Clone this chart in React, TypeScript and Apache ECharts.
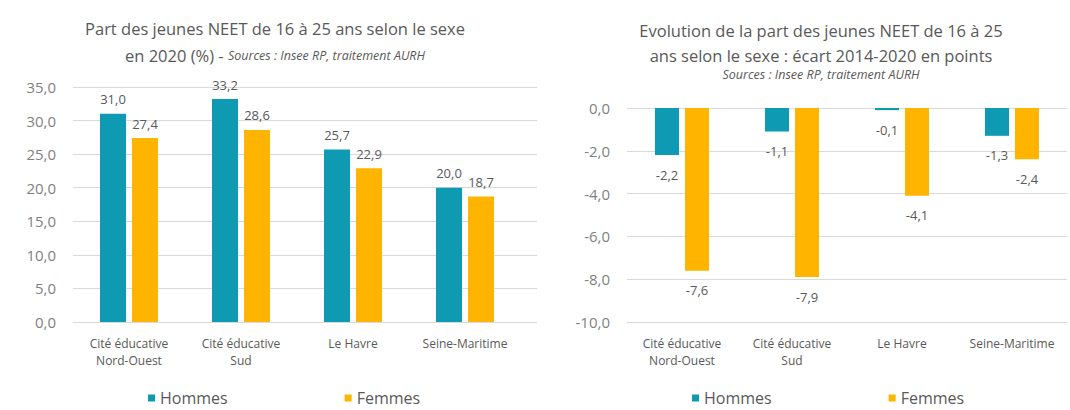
import React, { useEffect, useRef } from "react";
import * as echarts from "echarts";

const categories = ["Cité éducative\nNord-Ouest", "Cité éducative\nSud", "Le Havre", "Seine-Maritime"];
const seriesNames = ["Hommes", "Femmes"];
const hommes2020 = [31.0, 33.2, 25.7, 20.0];
const femmes2020 = [27.4, 28.6, 22.9, 18.7];
const hommesEcart = [-2.2, -1.1, -0.1, -1.3];
const femmesEcart = [-7.6, -7.9, -4.1, -2.4];

const leftTitle1 = "Part des jeunes NEET de 16 à 25 ans selon le sexe";
const leftTitle2 = "en 2020 (%) - ";
const sourceText = "Sources : Insee RP, traitement AURH";
const rightTitle1 = "Evolution de la part des jeunes NEET de 16 à 25";
const rightTitle2 = "ans selon le sexe : écart 2014-2020 en points";

const TEAL = "#0E9AB3";
const ORANGE = "#FFB400";
const TXT = "#595959";
const GRID = "#d9d9d9";
const FONT = "Open Sans";

const fmt = (v: number) => v.toFixed(1).replace(".", ",");

export default function App() {
  const ref = useRef<HTMLDivElement>(null);
  useEffect(() => {
    if (!ref.current) return;
    const chart = echarts.init(ref.current, null, { renderer: "svg" });
    const yAxisCommon = {
      type: "value" as const,
      axisLine: { show: false },
      axisTick: { show: false },
      splitLine: { show: true, lineStyle: { color: GRID, width: 1 } },
      axisLabel: { color: "#7f7f7f", fontSize: 15, fontFamily: FONT, margin: 17, formatter: (v: number) => fmt(v) },
    };
    const xAxisCommon = {
      type: "category" as const,
      data: categories,
      axisTick: { show: false },
      axisLine: { show: false },
      splitLine: { show: false },
      axisLabel: { color: TXT, fontSize: 12, fontFamily: FONT, margin: 13, lineHeight: 17, interval: 0 },
    };
    const labelCommon = { show: true, color: TXT, fontSize: 13, fontFamily: FONT, formatter: (p: any) => fmt(p.value) };
    const legendCommon = {
      data: seriesNames, top: 385, itemWidth: 7, itemHeight: 7, itemGap: 117, icon: "rect",
      textStyle: { color: TXT, fontSize: 16, fontFamily: FONT },
    };
    const gridCommon = { show: false, borderWidth: 0 };
    chart.setOption({
      animation: false,
      textStyle: { fontFamily: FONT },
      grid: [
        { ...gridCommon, left: 73, top: 87, width: 448, height: 235 },
        { ...gridCommon, left: 627, top: 108, width: 440, height: 214 },
        { ...gridCommon, left: 73, top: 87, width: 464, height: 235 },
      ],
      xAxis: [
        { ...xAxisCommon, gridIndex: 0 },
        { ...xAxisCommon, gridIndex: 1 },
        { ...xAxisCommon, gridIndex: 2, show: false },
      ],
      yAxis: [
        { ...yAxisCommon, gridIndex: 0, min: 0, max: 35, interval: 5, splitLine: { show: false } },
        { ...yAxisCommon, gridIndex: 1, min: -10, max: 0, interval: 2 },
        { ...yAxisCommon, gridIndex: 2, min: 0, max: 35, interval: 5, axisLabel: { show: false } },
      ],
      legend: [
        { ...legendCommon, left: 143 },
        { ...legendCommon, left: 687 },
      ],
      series: [
        {
          name: seriesNames[0], type: "bar", xAxisIndex: 0, yAxisIndex: 0, data: hommes2020,
          barWidth: 26, barGap: "23%", itemStyle: { color: TEAL },
          label: { ...labelCommon, position: "top", distance: 8 },
        },
        {
          name: seriesNames[1], type: "bar", xAxisIndex: 0, yAxisIndex: 0, data: femmes2020,
          barWidth: 26, barGap: "23%", itemStyle: { color: ORANGE },
          label: { ...labelCommon, position: "top", distance: 8 },
        },
        {
          name: seriesNames[0], type: "bar", xAxisIndex: 1, yAxisIndex: 1, data: hommesEcart,
          barWidth: 24, barGap: "25%", itemStyle: { color: TEAL },
          label: { ...labelCommon, position: "bottom", distance: 13 },
        },
        {
          name: seriesNames[1], type: "bar", xAxisIndex: 1, yAxisIndex: 1, data: femmesEcart,
          barWidth: 24, barGap: "25%", itemStyle: { color: ORANGE },
          label: { ...labelCommon, position: "bottom", distance: 13 },
        },
      ],
      graphic: [
        { type: "text", x: 275, y: 28, style: { text: leftTitle1, fill: TXT, fontSize: 16.5, fontFamily: FONT, align: "center", verticalAlign: "middle" } },
        {
          type: "text", x: 275, y: 55,
          style: {
            text: "{a|" + leftTitle2 + "}{s|" + sourceText + "}", align: "center", verticalAlign: "middle",
            rich: { a: { fill: TXT, fontSize: 16.5, fontFamily: FONT }, s: { fill: TXT, fontSize: 12.5, fontStyle: "italic", fontFamily: FONT } },
          },
        },
        { type: "text", x: 821, y: 30, style: { text: rightTitle1, fill: TXT, fontSize: 16.5, fontFamily: FONT, align: "center", verticalAlign: "middle" } },
        { type: "text", x: 821, y: 55, style: { text: rightTitle2, fill: TXT, fontSize: 16.5, fontFamily: FONT, align: "center", verticalAlign: "middle" } },
        { type: "text", x: 821, y: 74, style: { text: sourceText, fill: TXT, fontSize: 12.5, fontStyle: "italic", fontFamily: FONT, align: "center", verticalAlign: "middle" } },
      ],
    });
    return () => chart.dispose();
  }, []);
  return <div ref={ref} style={{ position: "fixed", left: 0, top: 0, width: 1070, height: 410, background: "#fff" }} />;
}
